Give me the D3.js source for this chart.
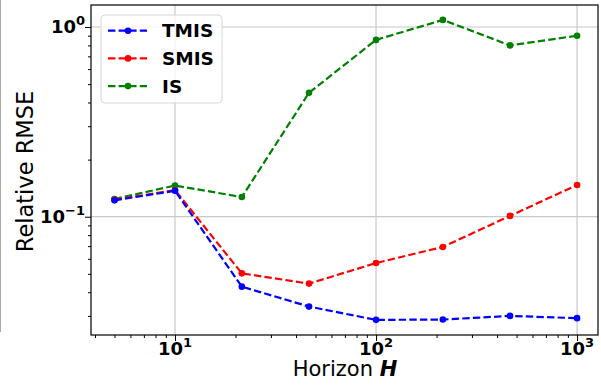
<!DOCTYPE html>
<html lang="en">
<head>
<meta charset="UTF-8">
<title>Relative RMSE</title>
<script src="https://cdn.jsdelivr.net/npm/d3@7"></script>
<style>
  body { margin: 0; background: #fff; }
  text { font-family: "DejaVu Sans", sans-serif; }
</style>
</head>
<body>
<script>
    let horizons = [5, 10, 21.5, 46.4, 100, 215, 464, 1000];
    let tmis = [0.122, 0.137, 0.0428, 0.0336, 0.0286, 0.0287, 0.0300, 0.0292];
    let smis = [0.123, 0.138, 0.0503, 0.0444, 0.0570, 0.0693, 0.101, 0.147];
    let is = [0.124, 0.146, 0.127, 0.45, 0.855, 1.09, 0.80, 0.90];
    let seriesNames = ['TMIS', 'SMIS', 'IS'];
    let seriesColors = ['#0000ff', '#ff0000', '#008000'];
    let xTicks = [10, 100, 1000];
    let yTicks = [0.1, 1];
    let supers = {'1': '1', '2': '2', '3': '3', '0': '0', '-1': '\u22121'};

    let width = 601, height = 385,
        padding = { top: 5, left: 91, bottom: 50, right: 3 };

    let svg = d3.select('body').append('svg').attr('width', width).attr('height', height);

    let x = d3.scaleLog().domain([3.82, 1271]).range([padding.left, width - padding.right]);
    let y = d3.scaleLog().domain([0.0238, 1.306]).range([height - padding.bottom, padding.top]);

    // thin gray line at left edge (from the source image)
    svg.append('line').attr('x1', 0.5).attr('x2', 0.5).attr('y1', 0).attr('y2', 332)
        .attr('stroke', '#aaa').attr('stroke-width', 1);

    // grid
    svg.append('g').selectAll('line').data(xTicks).join('line')
        .attr('x1', d => x(d)).attr('x2', d => x(d))
        .attr('y1', padding.top).attr('y2', height - padding.bottom)
        .attr('stroke', '#c8c8c8').attr('stroke-width', 1.2);
    svg.append('g').selectAll('line').data(yTicks).join('line')
        .attr('y1', d => y(d)).attr('y2', d => y(d))
        .attr('x1', padding.left).attr('x2', width - padding.right)
        .attr('stroke', '#c8c8c8').attr('stroke-width', 1.2);

    // axes
    let xMinor = x.ticks().filter(d => !xTicks.includes(d));
    svg.append('g').attr('transform', `translate(0,${height - padding.bottom})`)
        .call(d3.axisBottom(x).tickValues(xTicks).tickSize(6).tickFormat(''));
    svg.append('g').attr('transform', `translate(0,${height - padding.bottom})`)
        .call(d3.axisBottom(x).tickValues(xMinor).tickSize(3).tickFormat(''));

    let yMinor = y.ticks().filter(d => !yTicks.some(t => Math.abs(t - d) < 1e-9));
    svg.append('g').attr('transform', `translate(${padding.left},0)`)
        .call(d3.axisLeft(y).tickValues(yTicks).tickSize(6).tickFormat(''));
    svg.append('g').attr('transform', `translate(${padding.left},0)`)
        .call(d3.axisLeft(y).tickValues(yMinor).tickSize(3).tickFormat(''));

    svg.selectAll('.tick line').attr('stroke', '#000').attr('stroke-width', 1);
    svg.selectAll('.domain').remove();

    // tick labels
    xTicks.forEach(d => {
        let t = svg.append('text').attr('x', x(d)).attr('y', height - padding.bottom + 20)
            .attr('text-anchor', 'middle').attr('font-size', 18).attr('font-weight', 'bold');
        t.append('tspan').text('10');
        t.append('tspan').attr('dy', -8).attr('font-size', 13).text(supers[String(Math.round(Math.log10(d)))]);
    });
    yTicks.forEach(d => {
        let t = svg.append('text').attr('x', padding.left - 6).attr('y', y(d) + 6.5)
            .attr('text-anchor', 'end').attr('font-size', 18).attr('font-weight', 'bold');
        t.append('tspan').text('10');
        t.append('tspan').attr('dy', -8).attr('font-size', 13).text(supers[String(Math.round(Math.log10(d)))]);
    });

    // frame
    svg.append('rect').attr('x', padding.left).attr('y', padding.top)
        .attr('width', width - padding.right - padding.left)
        .attr('height', height - padding.bottom - padding.top)
        .attr('fill', 'none').attr('stroke', '#000').attr('stroke-width', 1.2);

    // axis titles
    let xl = svg.append('text').attr('x', 345).attr('y', 376)
        .attr('text-anchor', 'middle').attr('font-size', 21);
    xl.append('tspan').text('Horizon ');
    xl.append('tspan').attr('font-weight', 'bold').attr('font-style', 'italic').text('H');

    svg.append('text').attr('transform', 'translate(33,171.5) rotate(-90)')
        .attr('text-anchor', 'middle').attr('font-size', 22.5).text('Relative RMSE');

    // series
    let allSeries = [tmis, smis, is];
    let line = d3.line().x((d, i) => x(horizons[i])).y(d => y(d));
    // IS first, then SMIS, TMIS on top
    [2, 1, 0].forEach(k => {
        let g = svg.append('g');
        g.append('path').datum(allSeries[k]).attr('d', line)
            .attr('fill', 'none').attr('stroke', seriesColors[k])
            .attr('stroke-width', 2.2).attr('stroke-dasharray', '7.4,3.2');
        g.selectAll('circle').data(allSeries[k]).join('circle')
            .attr('cx', (d, i) => x(horizons[i])).attr('cy', d => y(d))
            .attr('r', 3.3).attr('fill', seriesColors[k]);
    });

    // legend
    let lg = svg.append('g');
    lg.append('rect').attr('x', 101).attr('y', 15).attr('width', 121).attr('height', 88).attr('rx', 4)
        .attr('fill', 'rgba(255,255,255,0.8)').attr('stroke', '#d6d6d6').attr('stroke-width', 1);
    seriesNames.forEach((name, i) => {
        let yy = 30.7 + i * 27.7;
        lg.append('line').attr('x1', 108).attr('x2', 147).attr('y1', yy).attr('y2', yy)
            .attr('stroke', seriesColors[i]).attr('stroke-width', 2.2).attr('stroke-dasharray', '7.4,3.2');
        lg.append('circle').attr('cx', 128).attr('cy', yy).attr('r', 3.3).attr('fill', seriesColors[i]);
        lg.append('text').attr('x', 162).attr('y', yy + 6.7).attr('font-size', 18.5)
            .attr('font-weight', 'bold').text(name);
    });
</script>
</body>
</html>
